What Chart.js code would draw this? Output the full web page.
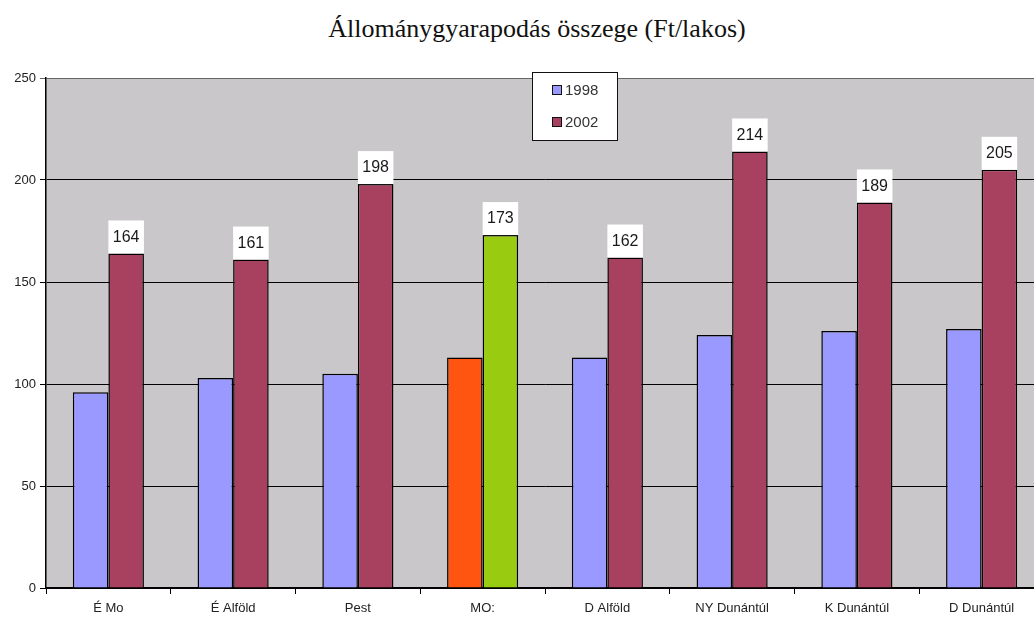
<!DOCTYPE html>
<html>
<head>
<meta charset="utf-8">
<script src="https://cdn.jsdelivr.net/npm/chart.js@4"></script>
<style>
  html, body { margin: 0; padding: 0; background: #fff; overflow: hidden; }
  #wrap { position: relative; width: 1034px; height: 617px; overflow: hidden; }
  #title {
    position: absolute; top: 14px; left: 0; width: 1074px;
    text-align: center; font-family: 'Liberation Serif', 'Times New Roman', serif;
    font-size: 26px; color: #111;
  }
  #chart { position: absolute; top: 0; left: 0; }
</style>
</head>
<body>
<div id="wrap">
  <div id="title">Állománygyarapodás összege (Ft/lakos)</div>
  <canvas id="chart" width="1044" height="617"></canvas>
</div>
<script>
const regions = ['É Mo', 'É Alföld', 'Pest', 'MO:', 'D Alföld', 'NY Dunántúl', 'K Dunántúl', 'D Dunántúl'];
const values1998 = [96, 103, 105, 113, 113, 124, 126, 127];
const values2002 = [164, 161, 198, 173, 162, 214, 189, 205];
const yTicks = [0, 50, 100, 150, 200, 250];

const BLUE = '#9999ff';
const RED = '#a8405f';
// the country total (MO:) is highlighted with its own colours
const colors1998 = regions.map(r => (r === 'MO:' ? '#ff5511' : BLUE));
const colors2002 = regions.map(r => (r === 'MO:' ? '#99cc11' : RED));

const plotBackground = {
  id: 'plotBackground',
  beforeDraw(chart) {
    const { ctx, chartArea: a } = chart;
    ctx.save();
    ctx.fillStyle = '#c9c7c9';
    ctx.fillRect(a.left, a.top, a.right - a.left, a.bottom - a.top);
    ctx.restore();
  }
};

// white boxes with the 2002 values above the bars
const valueBoxes = {
  id: 'valueBoxes',
  afterDatasetsDraw(chart) {
    const { ctx } = chart;
    const meta = chart.getDatasetMeta(1);
    ctx.save();
    meta.data.forEach((bar, i) => {
      const w = bar.width;
      ctx.fillStyle = '#ffffff';
      ctx.fillRect(bar.x - w / 2, bar.y - 33, w, 33);
      ctx.fillStyle = '#1a1a1a';
      ctx.font = '16px "Liberation Sans", Arial, sans-serif';
      ctx.textAlign = 'center';
      ctx.textBaseline = 'middle';
      ctx.fillText(String(values2002[i]), bar.x, bar.y - 16);
    });
    ctx.restore();
  }
};

// boxed legend inside the plot
const boxLegend = {
  id: 'boxLegend',
  afterDraw(chart) {
    const { ctx } = chart;
    const x = 532, y = 72, w = 85, h = 68;
    ctx.save();
    ctx.fillStyle = '#fff';
    ctx.fillRect(x, y, w, h);
    ctx.strokeStyle = '#111';
    ctx.lineWidth = 1;
    ctx.strokeRect(x + 0.5, y + 0.5, w, h);
    const items = [['1998', BLUE], ['2002', RED]];
    items.forEach(([label, color], i) => {
      const cy = y + 18 + i * 32;
      ctx.fillStyle = color;
      ctx.fillRect(x + 20, cy - 5, 10, 10);
      ctx.strokeStyle = '#111';
      ctx.strokeRect(x + 20.5, cy - 4.5, 9, 9);
      ctx.fillStyle = '#333';
      ctx.font = '15px "Liberation Sans", Arial, sans-serif';
      ctx.textBaseline = 'middle';
      ctx.fillText(label, x + 33, cy + 1);
    });
    ctx.restore();
  }
};

new Chart(document.getElementById('chart'), {
  type: 'bar',
  data: {
    labels: regions,
    datasets: [
      { label: '1998', data: values1998, backgroundColor: colors1998, borderColor: '#000', borderWidth: 1.5 },
      { label: '2002', data: values2002, backgroundColor: colors2002, borderColor: '#000', borderWidth: 1.5 }
    ]
  },
  options: {
    responsive: false,
    animation: false,
    layout: { padding: { top: 78, right: 0, left: 0, bottom: 0 } },
    datasets: { bar: { categoryPercentage: 0.57, barPercentage: 1.0 } },
    plugins: {
      legend: { display: false },
      tooltip: { enabled: false }
    },
    scales: {
      x: {
        grid: { drawOnChartArea: false, color: '#000', tickLength: 6, offset: true },
        border: { color: '#000', width: 1.5 },
        ticks: { color: '#222', font: { family: '"Liberation Sans", Arial', size: 13 }, padding: 7 },
        afterFit(scale) { scale.height = 29; }
      },
      y: {
        min: 0,
        max: 250,
        afterBuildTicks(scale) { scale.ticks = yTicks.map(v => ({ value: v })); },
        grid: {
          color: ctx => (ctx.tick && ctx.tick.value === 250 ? '#666' : '#000'),
          lineWidth: 1,
          tickLength: 6
        },
        border: { color: '#000', width: 1.5 },
        ticks: { color: '#222', font: { family: '"Liberation Sans", Arial', size: 13 }, padding: 4 },
        afterFit(scale) { scale.width = 46; }
      }
    }
  },
  plugins: [plotBackground, valueBoxes, boxLegend]
});
</script>
</body>
</html>
